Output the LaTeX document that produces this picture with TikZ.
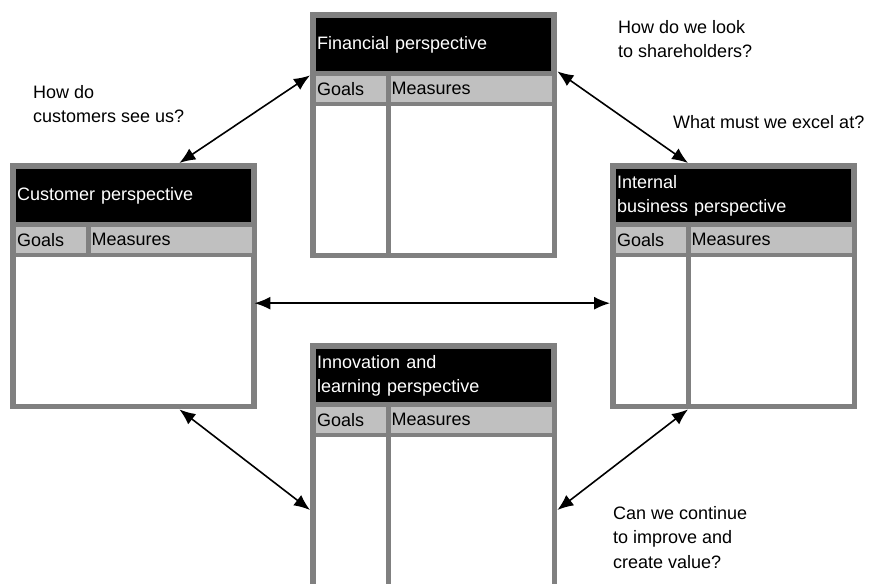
\documentclass[tikz,border=0pt]{standalone}
\usepackage{fontspec}
\setmainfont{Liberation Sans}
\usepackage{xcolor}
\usetikzlibrary{arrows.meta,positioning,calc}

\definecolor{frameGray}{HTML}{808080}
\definecolor{cellGray}{HTML}{C0C0C0}

\tikzset{
  frame/.style={fill=frameGray,draw=none,inner sep=0pt,anchor=north west,
    minimum width=247pt,minimum height=246pt},
  headbox/.style={fill=black,text=white,inner sep=1pt,align=left,
    text width=233pt,minimum height=53pt},
  goalcell/.style={fill=cellGray,inner sep=1pt,text width=68pt,
    minimum height=26pt},
  meascell/.style={fill=cellGray,inner sep=1pt,text width=159pt,
    minimum height=26pt},
  bodycell/.style={fill=white,inner sep=0pt,minimum height=147pt},
  question/.style={align=left,inner sep=0pt,anchor=north west},
  link/.style={{Latex[length=16pt,width=13pt]}-{Latex[length=16pt,width=13pt]},line width=1.6pt}
}

\begin{document}
\begin{tikzpicture}[x=1pt,y=-1pt,every node/.style={font=\fontsize{18}{24.5}\selectfont}]
\useasboundingbox (0,0) rectangle (869,583);
\begin{scope}
\clip (0,0) rectangle (869,583);
% financial
\node[frame] (fin) at (310,12) {};
\node[headbox,below right=6pt and 6pt of fin.north west] (fin-head) {Financial perspective};
\node[goalcell,below right=4pt and 0pt of fin-head.south west] (fin-goals) {Goals};
\node[meascell,below right=0pt and 4pt of fin-goals.north east] (fin-meas) {Measures};
\node[bodycell,minimum width=70pt,below right=4pt and 0pt of fin-goals.south west] (fin-gbody) {};
\node[bodycell,minimum width=161pt,below right=4pt and 0pt of fin-meas.south west] (fin-mbody) {};
% customer
\node[frame] (cust) at (10,163) {};
\node[headbox,below right=6pt and 6pt of cust.north west] (cust-head) {Customer perspective};
\node[goalcell,below right=4pt and 0pt of cust-head.south west] (cust-goals) {Goals};
\node[meascell,below right=0pt and 4pt of cust-goals.north east] (cust-meas) {Measures};
\node[bodycell,minimum width=235pt,below right=4pt and 0pt of cust-goals.south west] (cust-body) {};
% internal business
\node[frame] (intl) at (610,163) {};
\node[headbox,below right=6pt and 6pt of intl.north west] (intl-head) {Internal\\business perspective};
\node[goalcell,below right=4pt and 0pt of intl-head.south west] (intl-goals) {Goals};
\node[meascell,below right=0pt and 4pt of intl-goals.north east] (intl-meas) {Measures};
\node[bodycell,minimum width=70pt,below right=4pt and 0pt of intl-goals.south west] (intl-gbody) {};
\node[bodycell,minimum width=161pt,below right=4pt and 0pt of intl-meas.south west] (intl-mbody) {};
% innovation and learning
\node[frame] (innov) at (310,343) {};
\node[headbox,below right=6pt and 6pt of innov.north west] (innov-head) {Innovation and\\learning perspective};
\node[goalcell,below right=4pt and 0pt of innov-head.south west] (innov-goals) {Goals};
\node[meascell,below right=0pt and 4pt of innov-goals.north east] (innov-meas) {Measures};
\node[bodycell,minimum width=70pt,below right=4pt and 0pt of innov-goals.south west] (innov-gbody) {};
\node[bodycell,minimum width=161pt,below right=4pt and 0pt of innov-meas.south west] (innov-mbody) {};
\end{scope}
% questions
\node[question] (q-cust) at (33,85) {How do\\customers see us?};
\node[question] (q-fin) at (618,20) {How do we look\\to shareholders?};
\node[question] (q-intl) at (673,115) {What must we excel at?};
\node[question] (q-innov) at (613,506) {Can we continue\\to improve and\\create value?};
% links
\draw[link] ($(cust.north east)+(-78,0)$) -- (fin.west |- fin-goals.north);
\draw[link] (fin.east |- fin-head.south) -- ($(intl.north west)+(78,0)$);
\draw[link] ($(cust.east)+(-3,17)$) -- ($(intl.west)+(0,17)$);
\draw[link] ($(cust.south east)+(-78,0)$) -- ($(innov.north west)+(0,167)$);
\draw[link] ($(intl.south west)+(78,0)$) -- ($(innov.north east)+(0,167)$);
\end{tikzpicture}
\end{document}
